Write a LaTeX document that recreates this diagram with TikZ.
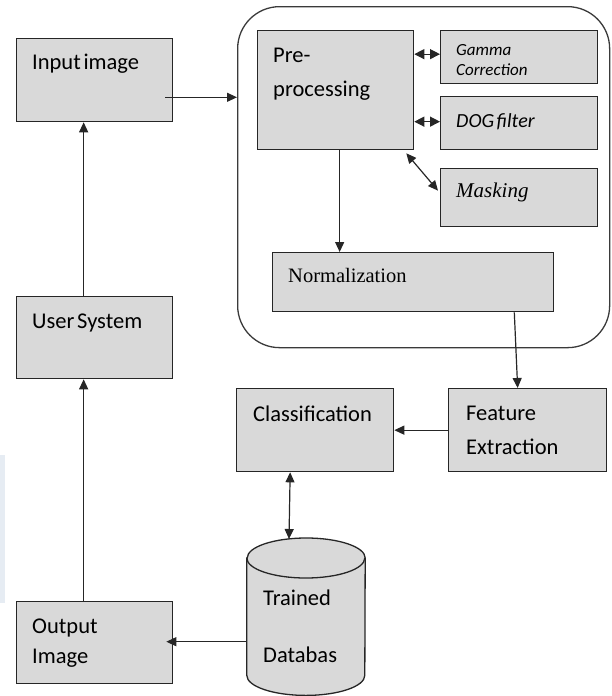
\documentclass[tikz,border=0pt]{standalone}
\usepackage{fontspec}
\setmainfont{Carlito}
\newfontfamily\tnr{Liberation Serif}
\usetikzlibrary{arrows.meta,calc}
\definecolor{boxgray}{HTML}{D9D9D9}
\definecolor{edge}{HTML}{262626}
\definecolor{contedge}{HTML}{3A3A3A}
\definecolor{faintblue}{HTML}{E6ECF3}
\newcommand\tsp{\spaceskip 0.12em\relax}
\newcommand\bigf{\fontsize{22.5}{27}\selectfont\tsp}
\tikzset{
  box/.style={draw=edge, line width=1.3pt, fill=boxgray, rectangle, anchor=north west, inner sep=0pt},
  txt/.style={anchor=base west, inner sep=0pt, font=\bigf},
  conn/.style={line width=1.2pt, edge, -{Triangle[length=10pt,width=9pt]}},
  dconn/.style={line width=1.2pt, edge, {Triangle[length=10pt,width=9pt]}-{Triangle[length=10pt,width=9pt]}},
  sconn/.style={line width=1.2pt, edge, {Triangle[length=10pt,width=10pt]}-{Triangle[length=10pt,width=10pt]}},
  ell/.style={x radius=59pt, y radius=20pt},
}
\begin{document}
\begin{tikzpicture}[x=1pt,y=-1pt]
\useasboundingbox (0,0) rectangle (611,696);
\fill[faintblue] (0,455) rectangle (5,603);
% container
\node[draw=contedge, line width=1.3pt, rounded corners=42pt, rectangle, anchor=north west,
      minimum width=372pt, minimum height=341pt, inner sep=0pt] (cont) at (237,6) {};
% boxes
\node[box, minimum width=156pt, minimum height=83pt] (inp) at (16,38) {};
\node[box, minimum width=156pt, minimum height=82pt] (user) at (16,296) {};
\node[box, minimum width=156pt, minimum height=82pt] (out) at (16,601) {};
\node[box, minimum width=156pt, minimum height=119pt] (pre) at (257,30) {};
\node[box, minimum width=157pt, minimum height=53pt] (gam) at (440,30) {};
\node[box, minimum width=157pt, minimum height=53pt] (dog) at (440,96) {};
\node[box, minimum width=157pt, minimum height=58pt] (mask) at (440,168) {};
\node[box, minimum width=281pt, minimum height=59pt] (norm) at (272,252) {};
\node[box, minimum width=157pt, minimum height=83pt] (cls) at (236,388) {};
\node[box, minimum width=158pt, minimum height=83pt] (feat) at (448,388) {};
% database cylinder
\node[rectangle, inner sep=0pt, minimum width=118pt, minimum height=117pt, anchor=north] (db) at (306,558) {};
\draw[draw=edge, line width=1.3pt, fill=boxgray]
  (db.north west) -- (db.south west) arc[start angle=180, end angle=360, ell]
  -- (db.north east) arc[start angle=0, end angle=180, ell] -- cycle;
\draw[draw=edge, line width=1.3pt] (db.north west) arc[start angle=180, end angle=360, ell];
% texts
\node[txt] (tinp) at (32,69) {Input image};
\node[txt] (tuser) at (32,328) {User System};
\node[txt] (tout1) at (32,633) {Output};
\node[txt] (tout2) at (32,663) {Image};
\node[txt] (tpre1) at (273,62) {Pre-};
\node[txt] (tpre2) at (273,96) {processing};
\node[txt, font=\fontsize{17}{20}\selectfont\itshape] (tgam1) at (456,55) {Gamma};
\node[txt, font=\fontsize{17}{20}\selectfont\itshape] (tgam2) at (456,75) {Correction};
\node[txt, font=\fontsize{20}{24}\selectfont\itshape\tsp] (tdog) at (456,127) {DOG filter};
\node[txt, font=\fontsize{21}{25}\selectfont\tnr\itshape] (tmask) at (456,197) {Masking};
\node[txt, font=\fontsize{20.5}{25}\selectfont\tnr] (tnorm) at (288,282) {Normalization};
\node[txt] (tcls) at (253,421) {Classification};
\node[txt] (tfeat1) at (466,420) {Feature};
\node[txt] (tfeat2) at (466,454) {Extraction};
\node[txt] (tdb1) at (263,605) {Trained};
\node[txt] (tdb2) at (263,662) {Databas};
% connectors
\coordinate (inpout) at ([shift={(-8pt,25pt)}]inp.south east);
\draw[conn] (inpout) -- (cont.west |- inpout);
\draw[conn] ([xshift=-11pt]user.north) -- ([xshift=-11pt]inp.south);
\draw[conn] ([xshift=-11pt]out.north) -- ([xshift=-11pt]user.south);
\draw[sconn] ([yshift=3pt]gam.west -| pre.east) -- ([yshift=3pt]gam.west);
\draw[sconn] ([yshift=1.5pt]dog.west -| pre.east) -- ([yshift=1.5pt]dog.west);
\draw[dconn] ([shift={(-8pt,-3pt)}]pre.south east) -- ([shift={(-2pt,7pt)}]mask.west);
\draw[conn] ([xshift=4pt]pre.south) -- ([xshift=4pt]pre.south |- norm.north);
\draw[conn] ([xshift=-40pt]norm.south east) -- ([xshift=-10pt]feat.north);
\draw[conn] (feat.west) -- (cls.east);
\coordinate (dbtop) at (289,539);
\draw[dconn] ([xshift=-25pt]cls.south) -- (dbtop);
\coordinate (dbout) at ([yshift=-25pt]db.west);
\draw[conn] (dbout) -- ([xshift=-7pt]out.east |- dbout);
\end{tikzpicture}
\end{document}
